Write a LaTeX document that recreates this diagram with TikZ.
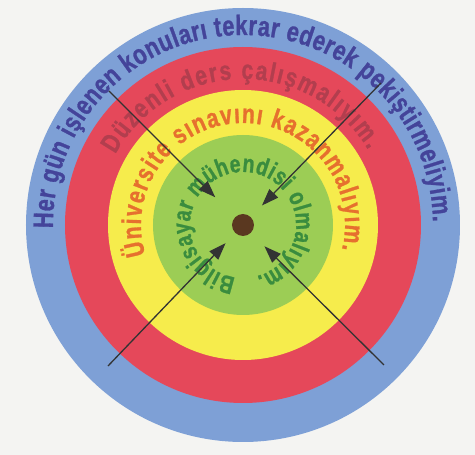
\documentclass[tikz,border=0pt]{standalone}
\usepackage{fontspec}
\usepackage{xcolor}
\usetikzlibrary{arrows.meta,decorations.text}
\setmainfont{Liberation Sans}
\newfontfamily\halkafont[FakeStretch=0.78,BoldFeatures={FakeBold=1}]{Liberation Sans}
\definecolor{hedefmavi}{HTML}{7EA0D6}
\definecolor{hedefkirmizi}{HTML}{E5485A}
\definecolor{hedefsari}{HTML}{F6EC4C}
\definecolor{hedefyesil}{HTML}{9CCD55}
\definecolor{hedefkahve}{HTML}{5A3820}
\definecolor{yazimavi}{HTML}{44449A}
\definecolor{yazikirmizi}{HTML}{B23E4E}
\definecolor{yaziturunc}{HTML}{E6702E}
\definecolor{yaziyesil}{HTML}{3A8C3E}
\definecolor{okgri}{HTML}{333333}
\definecolor{kagit}{HTML}{F4F4F2}
\newcommand\halkayazi[1]{\halkafont\bfseries\fontsize{#1}{#1}\selectfont}

\begin{document}
\begin{tikzpicture}[
    x=1pt,y=1pt,
    yazi/.style = {decorate,decoration={text along path,text align={fit to path},
                   text color=#1}},
    merkez/.style = {circle,fill=hedefkahve,minimum size=22pt,inner sep=0pt},
    ok/.style = {-{Triangle[length=17pt,width=12pt]},okgri,line width=1.3pt},
  ]

  % Zemin
  \fill[kagit] (-243,-230) rectangle (232,225);
  \useasboundingbox (-243,-230) rectangle (232,225);

  % Halkalar
  \fill[hedefmavi]    (0,0) circle[radius=217pt];
  \fill[hedefkirmizi] (0,0) circle[radius=178pt];
  \fill[hedefsari]    (0,0) circle[radius=135pt];
  \fill[hedefyesil]   (0,0) circle[radius=90pt];
  \node[merkez] (merkez) at (0,0) {};

  % Halka yazilari
  {\halkayazi{28pt}
  \path[yazi=yazimavi,
        decoration={text={Her gün işlenen konuları tekrar ederek pekiştirmeliyim.}}]
    (181:190pt) arc[start angle=181,end angle=1,radius=190pt];}
  {\halkayazi{27pt}
  \path[yazi=yazikirmizi,
        decoration={text={Düzenli ders çalışmalıyım.}}]
    (151:146pt) arc[start angle=151,end angle=31,radius=146pt];}
  {\halkayazi{27pt}
  \path[yazi=yaziturunc,
        decoration={text={Üniversite sınavını kazanmalıyım.}}]
    (197:102pt) arc[start angle=197,end angle=-14,radius=102pt];}
  {\halkayazi{25pt}
  \path[yazi=yaziyesil,
        decoration={text={Bilgisayar mühendisi olmalıyım.}}]
    (262:53pt) arc[start angle=262,end angle=-75,radius=53pt];}

  % Oklar
  \coordinate (solust) at (-134,134);
  \coordinate (sagust) at (138,142);
  \coordinate (solalt) at (-135,-141);
  \coordinate (sagalt) at (141,-140);
  \draw[ok,shorten >=28pt] (solust) -- (merkez);
  \draw[ok,shorten >=16pt] (sagust) -- (merkez);
  \draw[ok,shorten >=14pt] (solalt) -- (merkez);
  \draw[ok,shorten >=19pt] (sagalt) -- (merkez);

\end{tikzpicture}
\end{document}
